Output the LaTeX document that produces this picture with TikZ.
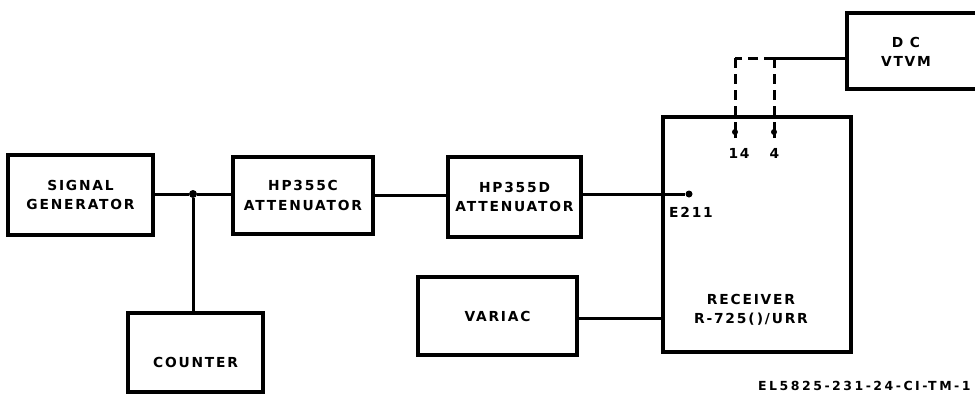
\documentclass[tikz,border=0pt]{standalone}
\usepackage{fontspec}
\newfontfamily\lblfont{DejaVu Sans}[LetterSpace=13]
\newfontfamily\capfont{DejaVu Sans}[LetterSpace=20]
\begin{document}
\begin{tikzpicture}[x=1pt,y=-1pt,
  box/.style={draw,line width=3.2pt,minimum width=#1,inner sep=0pt,align=center,
    font=\lblfont\bfseries\fontsize{13.8}{19.5}\selectfont},
  lbl/.style={inner sep=0pt,align=center,font=\lblfont\bfseries\fontsize{13.8}{19.5}\selectfont},
  wire/.style={line width=3pt},
  dwire/.style={line width=3pt,dash pattern=on 10pt off 6pt},
  jdot/.style={circle,fill,inner sep=0pt,minimum size=8pt}]
\useasboundingbox (0,0) rectangle (975,394);
\clip (0,0) rectangle (975,394);
% boxes
\node[box=145pt,minimum height=80pt] (sg) at (80.5,195) {SIGNAL\\GENERATOR};
\node[box=140pt,minimum height=77pt] (hpc) at (303,195.5) {HP355C\\ATTENUATOR};
\node[box=133pt,minimum height=80pt] (hpd) at (514.5,197) {HP355D\\ATTENUATOR};
\node[box=135pt,minimum height=79pt] (cnt) at (195.5,352.5) {};
\node[lbl] (cntt) at (195.5,362) {COUNTER};
\node[box=159pt,minimum height=78pt] (var) at (497.5,316) {VARIAC};
\node[box=188pt,minimum height=235pt] (rx) at (757,234.5) {};
\node[box=150pt,minimum height=76pt] (vtvm) at (922,51) {};
\node[lbl] (vtvmt) at (906,52) {D C\\VTVM};
% receiver labels
\node[lbl] (rxt) at (751,310) {RECEIVER\\R-725(\,)/URR};
\node[lbl] (e211t) at (691,212) {E211};
\node[lbl] (p14t) at (739,153) {14};
\node[lbl] (p4t) at (774.5,153) {4};
% junction and terminals
\node[jdot] (j) at (193,194) {};
\node[jdot,minimum size=7pt] (e211) at (689,194) {};
\node[jdot,minimum size=6pt] (p14) at (735,132) {};
\node[jdot,minimum size=6pt] (p4) at (774,132) {};
\coordinate (c14) at (735,58);
\coordinate (c4) at (774,58);
% connectors
\draw[wire] (sg.east |- j) -- (j) -- (hpc.west |- j);
\draw[wire] (j) -- (j |- cnt.north);
\draw[wire] (hpc.east |- 0,195) -- (hpd.west |- 0,195);
\draw[wire] (hpd.east |- e211) -- (e211);
\draw[wire] (var.east |- 0,318) -- (rx.west |- 0,318);
\draw[wire] (vtvm.west |- c4) -- (c4);
\draw[dwire] (c4) -- (c14);
\draw[dwire] (c14) -- ([yshift=-4pt]p14.center);
\draw[dwire] (c4) -- ([yshift=-4pt]p4.center);
\draw[wire] ([yshift=-6pt]p14.center) -- (p14.center);
\draw[wire] ([yshift=-6pt]p4.center) -- (p4.center);
% caption
\node[inner sep=0pt,anchor=west,font=\capfont\bfseries\fontsize{12.5}{15}\selectfont] (cap) at (758,386) {EL5825-231-24-CI-TM-1};
\end{tikzpicture}
\end{document}
